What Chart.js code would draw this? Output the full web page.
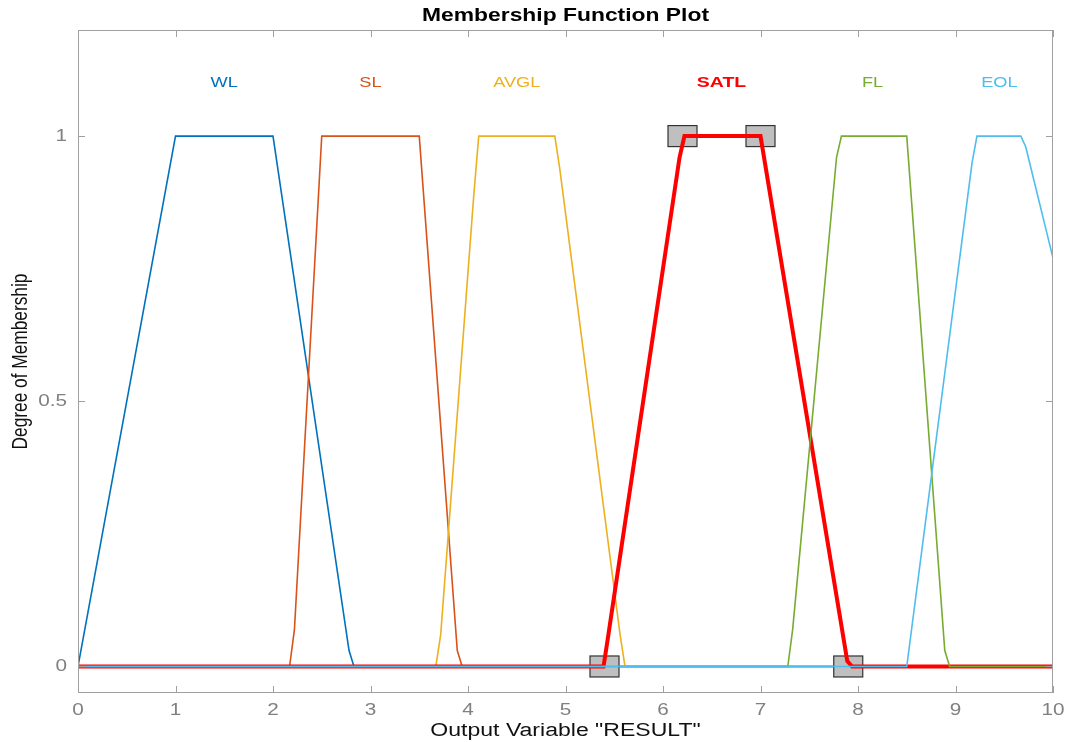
<!DOCTYPE html>
<html>
<head>
<meta charset="utf-8">
<script src="https://cdn.jsdelivr.net/npm/chart.js@4/dist/chart.umd.min.js"></script>
<style>
  body { margin: 0; background: #fff; }
  #wrap { width: 1067px; height: 742px; }
</style>
</head>
<body>
<div id="wrap"><canvas id="mfplot" width="1067" height="742"></canvas></div>
<script>
/* membership functions of output "RESULT", vertices */
var mfNames = ["WL", "SL", "AVGL", "SATL", "FL", "EOL"];
var mfColors = ["#0072BD", "#D95319", "#EDB120", "#FF0000", "#77AC30", "#4DBEEE"];

var wlX = [0, 1, 2, 2.78, 2.83, 10];
var wlY = [0, 1, 1, 0.03, 0, 0];
var slX = [0, 2.17, 2.22, 2.5, 3.5, 3.89, 3.94, 10];
var slY = [0, 0, 0.07, 1, 1, 0.03, 0, 0];
var avglX = [0, 3.67, 3.72, 4.06, 4.11, 4.89, 4.94, 5.56, 5.61, 10];
var avglY = [0, 0, 0.06, 0.89, 1, 1, 0.94, 0.06, 0, 0];
var satlX = [0, 5.39, 5.44, 6.17, 6.22, 7.0, 7.89, 7.94, 10];
var satlY = [0, 0, 0.06, 0.96, 1, 1, 0.01, 0, 0];
var flX = [0, 7.28, 7.33, 7.78, 7.83, 8.5, 8.89, 8.94, 10];
var flY = [0, 0, 0.07, 0.96, 1, 1, 0.03, 0, 0];
var eolX = [0, 8.5, 9.17, 9.22, 9.67, 9.72, 10];
var eolY = [0, 0, 0.95, 1, 1, 0.98, 0.77];

/* label positions (centre of each core) */
var labelX = [1.5, 3.0, 4.5, 6.6, 8.15, 9.45];
var labelY = 1.1;

/* selected MF handles (SATL trapezoid params) */
var handleX = [5.4, 6.2, 7.0, 7.9];
var handleY = [0, 1, 1, 0];

var xTicks = [0, 1, 2, 3, 4, 5, 6, 7, 8, 9, 10];
var yTicks = [0, 0.5, 1];

function pts(xs, ys) {
  var out = [];
  for (var i = 0; i < xs.length; i++) out.push({ x: xs[i], y: ys[i] });
  return out;
}

var allX = [wlX, slX, avglX, satlX, flX, eolX];
var allY = [wlY, slY, avglY, satlY, flY, eolY];
var datasets = [];
for (var k = 0; k < mfNames.length; k++) {
  datasets.push({
    label: mfNames[k],
    data: pts(allX[k], allY[k]),
    showLine: true,
    borderColor: mfColors[k],
    backgroundColor: mfColors[k],
    borderWidth: k == 3 ? 4 : 1.6,
    pointRadius: 0,
    tension: 0,
    order: 6 - k   // later MFs painted on top
  });
}

var SATL = 3;
var axisGray = "#a0a0a0";
var FONT = "'Liberation Sans', Arial, sans-serif";

/* the original text is wider than normal Helvetica, so stretch it sideways */
function txt(ctx, s, x, y, font, color, sx, align) {
  ctx.save();
  ctx.translate(x, y);
  ctx.scale(sx, 1);
  ctx.font = font;
  ctx.fillStyle = color;
  ctx.textAlign = align || "center";
  ctx.textBaseline = "middle";
  ctx.fillText(s, 0, 0);
  ctx.restore();
}

var decor = {
  id: "decor",
  beforeDatasetDraw: function (chart, args) {
    if (args.index !== SATL) return;
    var ctx = chart.ctx, xs = chart.scales.x, ys = chart.scales.y;
    ctx.save();
    for (var i = 0; i < handleX.length; i++) {
      var px = xs.getPixelForValue(handleX[i]);
      var py = ys.getPixelForValue(handleY[i]);
      ctx.fillStyle = "#bfbfbf";
      ctx.strokeStyle = "#333333";
      ctx.lineWidth = 1.2;
      ctx.fillRect(px - 14.5, py - 10.5, 29, 21);
      ctx.strokeRect(px - 14.5, py - 10.5, 29, 21);
    }
    ctx.restore();
  },
  afterDraw: function (chart) {
    var ctx = chart.ctx, a = chart.chartArea;
    var xs = chart.scales.x, ys = chart.scales.y;
    ctx.save();
    // box + inward ticks
    ctx.strokeStyle = axisGray;
    ctx.lineWidth = 1;
    ctx.strokeRect(a.left + 0.5, a.top + 0.5, a.right - a.left - 1, a.bottom - a.top - 1);
    ctx.beginPath();
    xTicks.forEach(function (v) {
      var px = Math.round(xs.getPixelForValue(v)) + 0.5;
      ctx.moveTo(px, a.bottom); ctx.lineTo(px, a.bottom - 7);
      ctx.moveTo(px, a.top); ctx.lineTo(px, a.top + 7);
    });
    yTicks.forEach(function (v) {
      var py = Math.round(ys.getPixelForValue(v)) + 0.5;
      ctx.moveTo(a.left, py); ctx.lineTo(a.left + 7, py);
      ctx.moveTo(a.right, py); ctx.lineTo(a.right - 7, py);
    });
    ctx.stroke();
    ctx.restore();

    // tick labels
    xTicks.forEach(function (v) {
      txt(ctx, String(v), xs.getPixelForValue(v), a.bottom + 17, "17px " + FONT, "#808080", 1.22);
    });
    yTicks.forEach(function (v) {
      txt(ctx, String(v), a.left - 11, ys.getPixelForValue(v), "17px " + FONT, "#808080", 1.22, "right");
    });

    // MF names
    for (var i = 0; i < mfNames.length; i++) {
      var f = i == SATL ? "bold 15px " + FONT : "14px " + FONT;
      txt(ctx, mfNames[i], xs.getPixelForValue(labelX[i]), ys.getPixelForValue(labelY), f, mfColors[i], 1.3);
    }

    // title
    var cx = (a.left + a.right) / 2;
    txt(ctx, "Membership Function Plot", cx, 16, "bold 18px " + FONT, "#000", 1.27);

    // axis titles
    txt(ctx, 'Output Variable "RESULT"', cx, 731, "18px " + FONT, "#111", 1.28);
    ctx.save();
    ctx.translate(21, (a.top + a.bottom) / 2);
    ctx.rotate(-Math.PI / 2);
    ctx.scale(1, 1.28);
    ctx.font = "17.3px " + FONT;
    ctx.fillStyle = "#111";
    ctx.textAlign = "center";
    ctx.textBaseline = "middle";
    ctx.fillText("Degree of Membership", 0, 0);
    ctx.restore();
  }
};

var ctx = document.getElementById("mfplot");
var myChart = new Chart(ctx, {
  type: "scatter",
  data: { datasets: datasets },
  options: {
    responsive: false,
    animation: false,
    layout: { padding: { top: 30, right: 14, left: 0, bottom: 0 } },
    plugins: { legend: { display: false }, tooltip: { enabled: false } },
    scales: {
      x: {
        type: "linear",
        min: 0,
        max: 10,
        grid: { display: false, drawTicks: false },
        border: { display: false },
        ticks: { display: false },
        afterFit: function (s) { s.height = 49; s.paddingLeft = 0; s.paddingRight = 0; }
      },
      y: {
        min: -0.05,
        max: 1.2,
        grid: { display: false, drawTicks: false },
        border: { display: false },
        ticks: { display: false },
        afterFit: function (s) { s.width = 78; s.paddingTop = 0; s.paddingBottom = 0; }
      }
    }
  },
  plugins: [decor]
});
</script>
</body>
</html>
